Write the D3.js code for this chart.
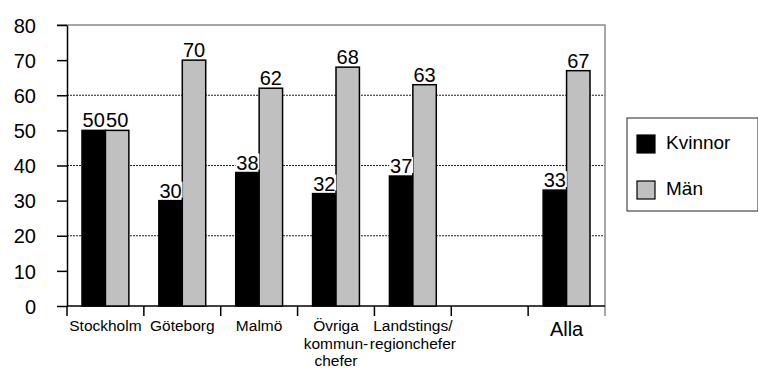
<!DOCTYPE html>
<html>
<head>
<meta charset="utf-8">
<script src="https://cdn.jsdelivr.net/npm/d3@7"></script>
<style>
body { margin: 0; background: #fff; }
text { font-family: "Liberation Sans", Arial, sans-serif; fill: #000; }
</style>
</head>
<body>
<svg id="chart" width="758" height="372"></svg>
<script>
// categories (one empty slot between Landstings and Alla)
const categories = ["Stockholm", "Göteborg", "Malmö", "Övriga", "Landstings", "tom", "Alla"];
const labelLines = [["Stockholm"], ["Göteborg"], ["Malmö"], ["Övriga", "kommun-", "chefer"],
                    ["Landstings/", "regionchefer"], [], ["Alla"]];
const kvinnor = [50, 30, 38, 32, 37, null, 33];
const man = [50, 70, 62, 68, 63, null, 67];
const yTicks = [0, 10, 20, 30, 40, 50, 60, 70, 80];
const gridTicks = [20, 40, 60];
const seriesNames = ["Kvinnor", "Män"];

let margin = {top: 25, left: 67};
let width = 605 - 67;
let height = 306 - 25;

let svg = d3.select("#chart");
let g = svg.append("g").attr("transform", `translate(${margin.left}, ${margin.top})`);

let x = d3.scaleBand()
    .domain(categories)
    .range([0, width])
    .padding(0);

let xs = d3.scaleBand()
    .domain(["k", "m"])
    .range([0, x.bandwidth()])
    .paddingInner(0)
    .paddingOuter(0.64);

let y = d3.scaleLinear()
    .domain([0, 80])
    .range([height, 0]);

// gridlines
g.selectAll("line.grid")
    .data(gridTicks)
    .join("line")
    .attr("class", "grid")
    .attr("x1", 0)
    .attr("x2", width)
    .attr("y1", d => y(d))
    .attr("y2", d => y(d))
    .style("stroke", "#222")
    .style("stroke-width", 1)
    .style("stroke-dasharray", "2,1");

// plot border (top + right), gray
g.append("path")
    .attr("d", `M${-10},0H${width}V${height + 10}`)
    .style("fill", "none")
    .style("stroke", "#8a8a8a")
    .style("stroke-width", 1.5);

// y axis
let yAxis = g.append("g")
    .call(d3.axisLeft(y).tickValues(yTicks).tickSize(10).tickSizeOuter(0).tickPadding(21));
yAxis.selectAll("text")
    .style("font-size", "20px")
    .attr("dy", "0.36em");
yAxis.selectAll("line, path").style("stroke", "#000").style("stroke-width", 1.5);

// x axis line + boundary ticks
g.append("line")
    .attr("x1", 0).attr("x2", width)
    .attr("y1", height).attr("y2", height)
    .style("stroke", "#000").style("stroke-width", 1.5);

g.selectAll("line.xtick")
    .data(categories)
    .join("line")
    .attr("class", "xtick")
    .attr("x1", d => x(d))
    .attr("x2", d => x(d))
    .attr("y1", height)
    .attr("y2", height + 10)
    .style("stroke", "#000")
    .style("stroke-width", 1.5);

// bars
let rows = categories.map((c, i) => ({cat: c, k: kvinnor[i], m: man[i]}));

let groups = g.selectAll("g.cat")
    .data(rows)
    .join("g")
    .attr("class", "cat")
    .attr("transform", d => `translate(${x(d.cat)},0)`);

groups.filter(d => d.k != null).append("rect")
    .attr("x", xs("k"))
    .attr("y", d => y(d.k))
    .attr("width", xs.bandwidth())
    .attr("height", d => height - y(d.k))
    .style("fill", "#000")
    .style("stroke", "#000")
    .style("stroke-width", 1.5);

groups.filter(d => d.m != null).append("rect")
    .attr("x", xs("m"))
    .attr("y", d => y(d.m))
    .attr("width", xs.bandwidth())
    .attr("height", d => height - y(d.m))
    .style("fill", "#c0c0c0")
    .style("stroke", "#000")
    .style("stroke-width", 1.5);

// value labels with white backing
function valueLabel(sel, key) {
    let lab = sel.filter(d => d[key] != null).append("g")
        .attr("transform", d => `translate(${xs(key) + xs.bandwidth() / 2},${y(d[key]) - 3})`);
    lab.append("rect")
        .attr("x", -12).attr("y", -16)
        .attr("width", 24).attr("height", 16)
        .style("fill", "#fff");
    lab.append("text")
        .attr("text-anchor", "middle")
        .style("font-size", "20px")
        .text(d => d[key]);
}
valueLabel(groups, "k");
valueLabel(groups, "m");

// x labels
groups.each(function(d, i) {
    let lines = labelLines[i];
    let big = d.cat === "Alla";
    let t = d3.select(this).append("text")
        .attr("text-anchor", "middle")
        .attr("x", x.bandwidth() / 2)
        .attr("y", height + (big ? 30 : 25))
        .style("font-size", big ? "20px" : "15.5px");
    lines.forEach((l, j) => {
        t.append("tspan")
            .attr("x", x.bandwidth() / 2)
            .attr("dy", j === 0 ? 0 : 17.5)
            .text(l);
    });
});

// legend
let legend = svg.append("g").attr("transform", "translate(627,118)");
legend.append("rect")
    .attr("width", 131).attr("height", 93)
    .style("fill", "#fff")
    .style("stroke", "#222")
    .style("stroke-width", 1);

let li = legend.selectAll("g.item")
    .data(seriesNames)
    .join("g")
    .attr("class", "item")
    .attr("transform", (d, i) => `translate(10,${17 + i * 46})`);
li.append("rect")
    .attr("width", 18).attr("height", 18)
    .style("fill", (d, i) => i === 0 ? "#000" : "#c0c0c0")
    .style("stroke", "#000")
    .style("stroke-width", 1.2);
li.append("text")
    .attr("x", 29)
    .attr("y", 14)
    .style("font-size", "19px")
    .text(d => d);
</script>
</body>
</html>
